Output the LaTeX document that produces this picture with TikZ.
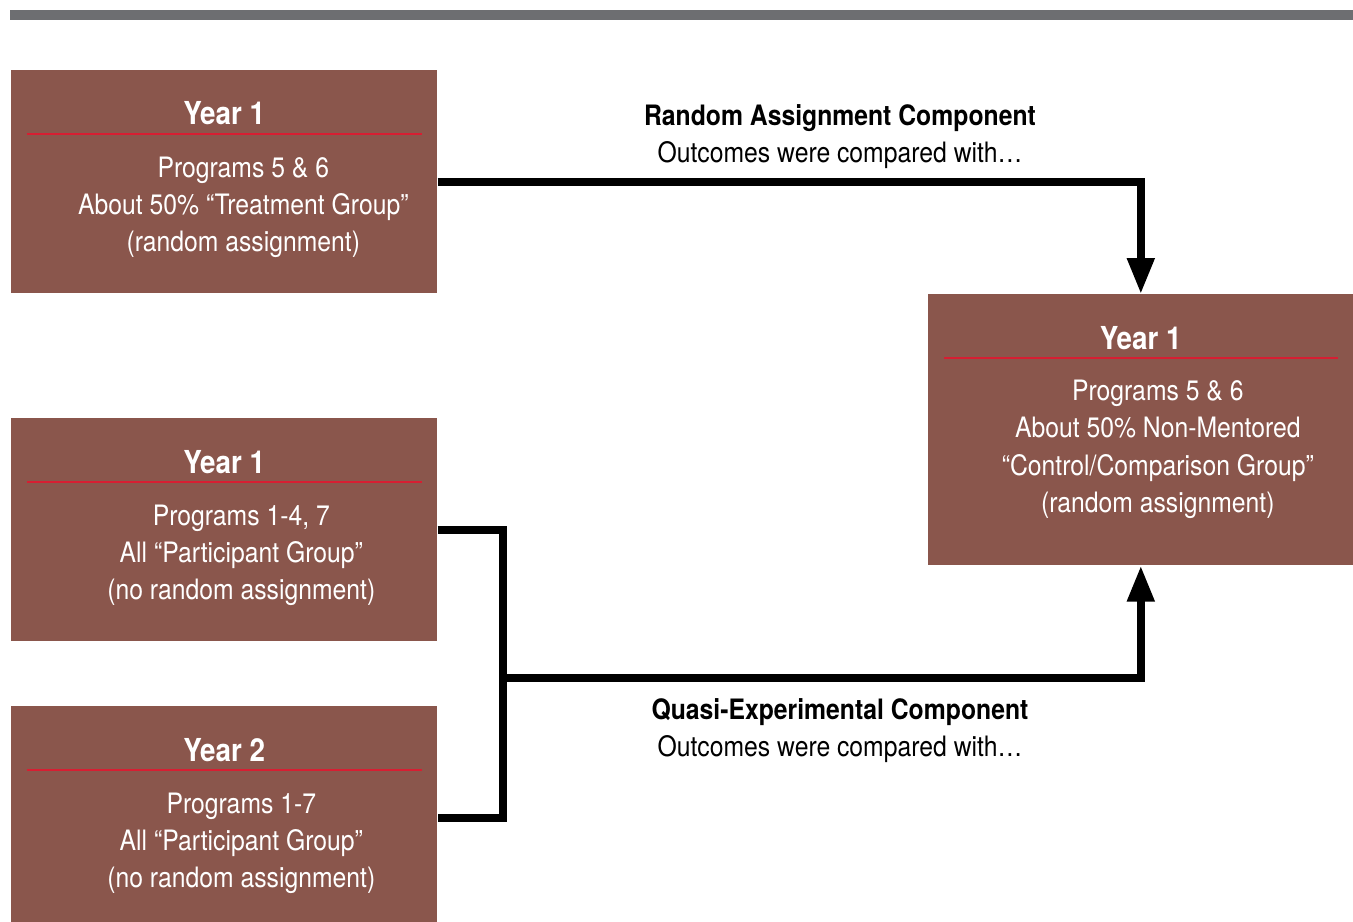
\documentclass[tikz,border=0pt]{standalone}
\usepackage{fontspec}
\setmainfont[FakeStretch=0.88]{TeX Gyre Heros}
\usetikzlibrary{arrows.meta}
\definecolor{boxbrown}{RGB}{138,86,76}
\definecolor{bargray}{RGB}{109,110,113}
\definecolor{rulered}{RGB}{215,30,50}

\begin{document}
\begin{tikzpicture}[x=0.02cm, y=-0.02cm,
    box/.style = {fill=boxbrown, draw=none, inner sep=0pt, anchor=north west,
        minimum width=8.52cm, minimum height=4.46cm},
    boxtitle/.style = {text=white, anchor=base, font=\fontsize{18}{22}\selectfont\bfseries},
    boxbody/.style = {text=white, anchor=base, align=center, font=\fontsize{16}{21.3}\selectfont},
    redrule/.style = {draw=rulered, line width=1.1pt},
    conn/.style = {draw=black, line width=4.5pt},
    tip/.style = {-{Triangle[length=0.72cm,width=0.52cm]}},
    lbl/.style = {anchor=base, align=center, font=\fontsize{16}{21}\selectfont}]

    \clip (0,0) rectangle (1353,921);
    \fill [bargray] (10,10) rectangle (1353,20);

    % boxes
    \node [box] (A) at (11,70) {};
    \node [box, minimum width=8.5cm, minimum height=5.42cm] (B) at (928,294) {};
    \node [box] (C) at (11,418) {};
    \node [box] (D) at (11,706) {};

    \node [boxtitle] (tA) at ([yshift=-1.1cm]A.north) {Year 1};
    \draw [redrule] ([xshift=0.32cm,yshift=-1.28cm]A.north west) -- ([xshift=-0.32cm,yshift=-1.28cm]A.north east);
    \node [boxbody] (bA) at ([xshift=0.38cm,yshift=-3.64cm]A.north) {Programs 5 \& 6\\About 50\% “Treatment Group”\\(random assignment)};

    \node [boxtitle] (tB) at ([yshift=-1.1cm]B.north) {Year 1};
    \draw [redrule] ([xshift=0.32cm,yshift=-1.28cm]B.north west) -- ([xshift=-0.32cm,yshift=-1.28cm]B.north east);
    \node [boxbody] (bB) at ([xshift=0.34cm,yshift=-4.37cm]B.north) {Programs 5 \& 6\\About 50\% Non-Mentored\\“Control/Comparison Group”\\(random assignment)};

    \node [boxtitle] (tC) at ([yshift=-1.1cm]C.north) {Year 1};
    \draw [redrule] ([xshift=0.32cm,yshift=-1.28cm]C.north west) -- ([xshift=-0.32cm,yshift=-1.28cm]C.north east);
    \node [boxbody] (bC) at ([xshift=0.34cm,yshift=-3.64cm]C.north) {Programs 1-4, 7\\All “Participant Group”\\(no random assignment)};

    \node [boxtitle] (tD) at ([yshift=-1.1cm]D.north) {Year 2};
    \draw [redrule] ([xshift=0.32cm,yshift=-1.28cm]D.north west) -- ([xshift=-0.32cm,yshift=-1.28cm]D.north east);
    \node [boxbody] (bD) at ([xshift=0.34cm,yshift=-3.64cm]D.north) {Programs 1-7\\All “Participant Group”\\(no random assignment)};

    % connectors
    \draw [conn, tip] (A.east) -| (B.north);

    \coordinate (j) at (503,678);
    \draw [conn] (C.east) -- (C.east -| j) -- (D.east -| j) -- (D.east);
    \draw [conn, tip] (j) -| (B.south);

    \node [lbl] (ra) at (840,162) {\textbf{Random Assignment Component}\\Outcomes were compared with…};
    \node [lbl] (qe) at (840,756) {\textbf{Quasi-Experimental Component}\\Outcomes were compared with…};
\end{tikzpicture}
\end{document}
